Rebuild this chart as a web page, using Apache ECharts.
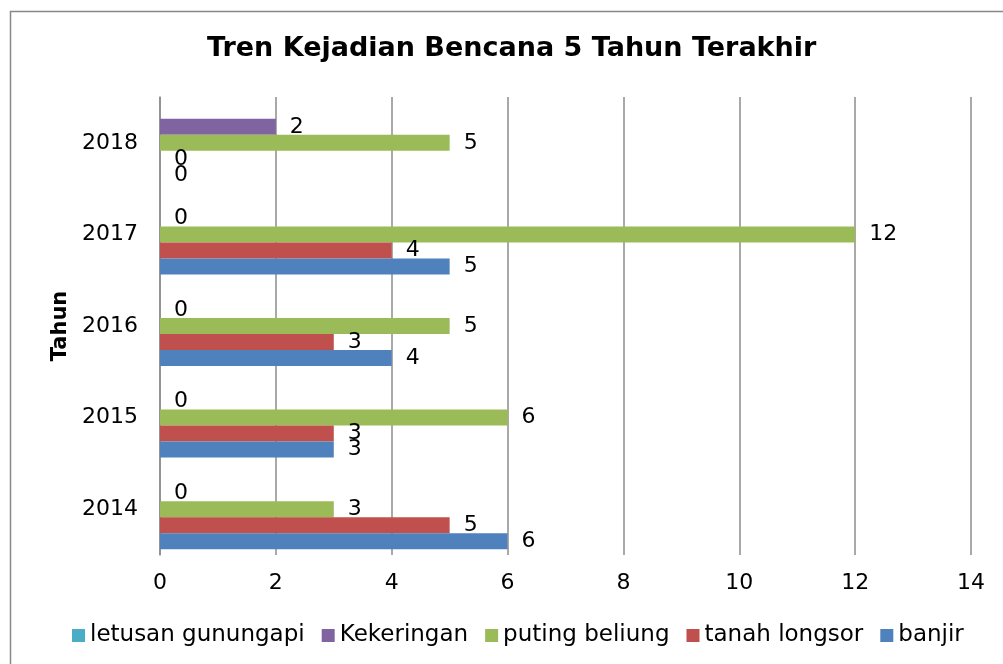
<!DOCTYPE html>
<html>
<head>
<meta charset="utf-8">
<script src="https://cdn.jsdelivr.net/npm/echarts@6/dist/echarts.min.js"></script>
<style>
  html, body { margin: 0; padding: 0; background: #fff; }
  #chart { width: 1003px; height: 664px; }
</style>
</head>
<body>
<div id="chart"></div>
<script>
  // data
  var years = ['2014', '2015', '2016', '2017', '2018'];
  var banjir = [6, 3, 4, 5, 0];
  var tanahLongsor = [5, 3, 3, 4, 0];
  var putingBeliung = [3, 6, 5, 12, 5];
  var kekeringan = [0, 0, 0, 0, 2];
  var letusanGunungapi = [null, null, null, null, null];
  var xTicks = [0, 2, 4, 6, 8, 10, 12, 14];

  var font = 'DejaVu Sans';
  var myChart = echarts.init(document.getElementById('chart'));

  function bar(name, data, color) {
    return {
      name: name,
      type: 'bar',
      data: data,
      barWidth: 16,
      barGap: '0%',
      itemStyle: { color: color },
      label: {
        show: true,
        position: 'right',
        distance: 14,
        color: '#000',
        fontFamily: font,
        fontSize: 22
      }
    };
  }

  myChart.setOption({
    animation: false,
    textStyle: { fontFamily: font },
    title: {
      text: 'Tren Kejadian Bencana 5 Tahun Terakhir',
      left: 202,
      top: 30,
      textStyle: { fontSize: 27, fontWeight: 'bold', color: '#000', fontFamily: font }
    },
    graphic: [{
      type: 'rect',
      shape: { x: 10.5, y: 11.5, width: 1010, height: 680 },
      style: { fill: 'none', stroke: '#888', lineWidth: 1.5 },
      silent: true
    }],
    legend: {
      bottom: 12,
      left: 67,
      itemWidth: 13,
      itemHeight: 13,
      itemGap: 17,
      icon: 'rect',
      data: ['letusan gunungapi', 'Kekeringan', 'puting beliung', 'tanah longsor', 'banjir'],
      textStyle: { fontSize: 23, color: '#000', fontFamily: font }
    },
    grid: { left: 160, right: 32, top: 97, bottom: 109 },
    xAxis: {
      type: 'value',
      min: xTicks[0],
      max: xTicks[xTicks.length - 1],
      interval: 2,
      axisLine: { show: false },
      axisTick: { show: false },
      axisLabel: { color: '#000', fontSize: 22, margin: 17, fontFamily: font },
      splitLine: { show: true, lineStyle: { color: '#8c8c8c', width: 1.5 } }
    },
    yAxis: {
      type: 'category',
      data: years,
      name: 'Tahun',
      nameLocation: 'middle',
      nameGap: 88,
      nameRotate: 90,
      nameTextStyle: { fontSize: 21, fontWeight: 'bold', color: '#000', fontFamily: font },
      axisLine: { show: true, lineStyle: { color: '#8c8c8c', width: 1.5 } },
      axisTick: { show: false },
      axisLabel: { color: '#000', fontSize: 22, margin: 22, fontFamily: font }
    },
    // series listed top-to-bottom within each year group
    series: [
      bar('letusan gunungapi', letusanGunungapi, '#4BACC6'),
      bar('Kekeringan', kekeringan, '#8064A2'),
      bar('puting beliung', putingBeliung, '#9BBB59'),
      bar('tanah longsor', tanahLongsor, '#C0504D'),
      bar('banjir', banjir, '#4F81BD')
    ]
  });
</script>
</body>
</html>
